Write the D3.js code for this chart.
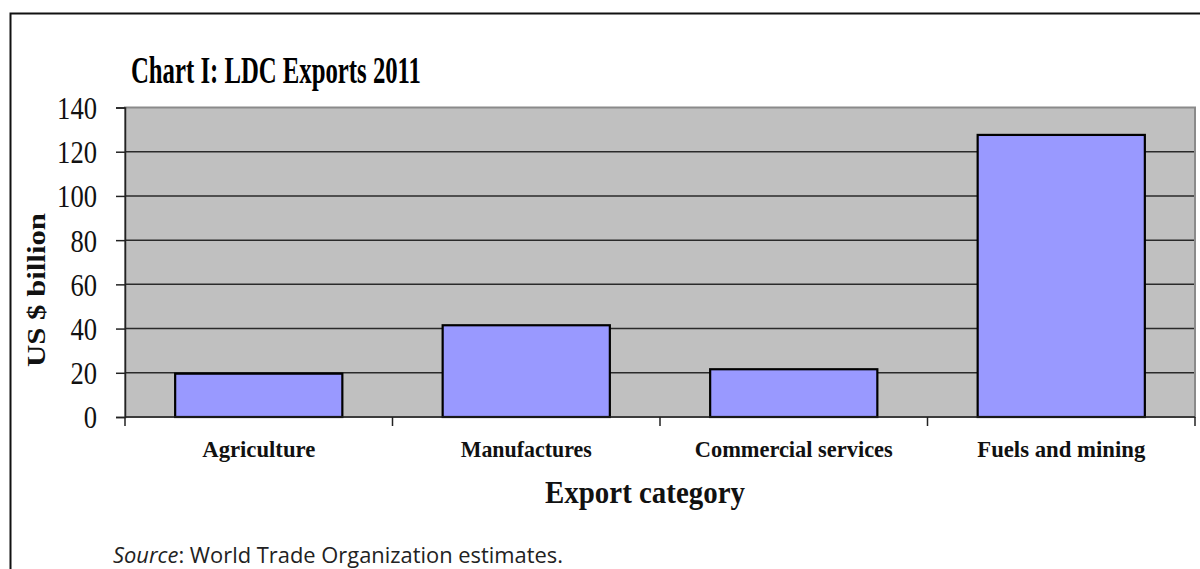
<!DOCTYPE html>
<html>
<head>
<meta charset="utf-8">
<script src="https://cdn.jsdelivr.net/npm/d3@7"></script>
<style>
  html, body { margin: 0; padding: 0; background: #fff; }
  svg { display: block; }
</style>
</head>
<body>
<script>
const categories = ["Agriculture", "Manufactures", "Commercial services", "Fuels and mining"];
const values = [19.6, 41.5, 21.6, 127.6];
const yTicks = [0, 20, 40, 60, 80, 100, 120, 140];
const title = "Chart I: LDC Exports 2011";
const yTitle = "US $ billion";
const xTitle = "Export category";
const sourceLabel = "Source";
const sourceText = ":  World Trade Organization estimates.";
// approximate rendered widths of x labels in the picture
const xLabelWidths = [113, 131, 198, 168];

const W = 1200, H = 569;
const plot = {left: 125, right: 1195, top: 107.5, bottom: 417};
const serif = "'Liberation Serif', 'Times New Roman', serif";

const svg = d3.select("body").append("svg").attr("width", W).attr("height", H);

// frame
svg.append("path")
  .attr("d", `M10.5,${H} L10.5,13.5 L${W},13.5`)
  .attr("fill", "none").attr("stroke", "#111").attr("stroke-width", 2);

const y = d3.scaleLinear().domain([0, 140]).range([plot.bottom, plot.top]);
const x = d3.scaleBand().domain(categories).range([plot.left, plot.right])
  .paddingInner(0.375).paddingOuter(0.1875);

// plot area
svg.append("rect")
  .attr("x", plot.left).attr("y", plot.top)
  .attr("width", plot.right - plot.left).attr("height", plot.bottom - plot.top)
  .attr("fill", "#C0C0C0").attr("stroke", "#8a8a8a").attr("stroke-width", 2);

// gridlines
svg.append("g").selectAll("line").data(yTicks.filter(d => d > 0 && d < 140)).join("line")
  .attr("x1", plot.left).attr("x2", plot.right - 1)
  .attr("y1", d => y(d)).attr("y2", d => y(d))
  .attr("stroke", "#2a2a2a").attr("stroke-width", 1.5);

// bars
svg.append("g").selectAll("rect").data(values).join("rect")
  .attr("x", (d, i) => x(categories[i]))
  .attr("y", d => y(d))
  .attr("width", x.bandwidth())
  .attr("height", d => y(0) - y(d))
  .attr("fill", "#9999FF")
  .attr("stroke", "#000").attr("stroke-width", 2.2);

// y axis
const yAxis = d3.axisLeft(y).tickValues(yTicks).tickSize(9).tickPadding(19).tickFormat(d3.format("d"));
const gy = svg.append("g").attr("transform", `translate(${plot.left},0)`).call(yAxis);
gy.select(".domain").attr("stroke", "#222").attr("stroke-width", 1.5);
gy.selectAll(".tick line").attr("stroke", "#222").attr("stroke-width", 1.5);
gy.selectAll(".tick text")
  .attr("font-family", serif).attr("font-size", 32).attr("fill", "#111")
  .attr("dy", "0.34em")
  .attr("textLength", d => String(d).length * 13.3)
  .attr("lengthAdjust", "spacingAndGlyphs");

// x axis (ticks at category boundaries)
svg.append("line")
  .attr("x1", plot.left).attr("x2", plot.right)
  .attr("y1", y(0)).attr("y2", y(0))
  .attr("stroke", "#222").attr("stroke-width", 1.5);
const bounds = categories.map(c => x(c) - x.step() * x.paddingInner() / 2);
bounds.push(bounds[bounds.length - 1] + x.step());
svg.append("g").selectAll("line").data(bounds).join("line")
  .attr("x1", d => d).attr("x2", d => d)
  .attr("y1", y(0)).attr("y2", y(0) + 9)
  .attr("stroke", "#222").attr("stroke-width", 1.5);

svg.append("g").selectAll("text").data(categories).join("text")
  .attr("x", d => x(d) + x.bandwidth() / 2)
  .attr("y", 457)
  .attr("text-anchor", "middle")
  .attr("font-family", serif).attr("font-weight", "bold").attr("font-size", 24)
  .attr("fill", "#111")
  .attr("textLength", (d, i) => xLabelWidths[i])
  .attr("lengthAdjust", "spacingAndGlyphs")
  .text(d => d);

// titles
svg.append("text")
  .attr("x", 131).attr("y", 83)
  .attr("font-family", serif).attr("font-weight", "bold").attr("font-size", 37)
  .attr("fill", "#000")
  .attr("textLength", 290).attr("lengthAdjust", "spacingAndGlyphs")
  .text(title);

svg.append("text")
  .attr("transform", `translate(45,290) rotate(-90)`)
  .attr("text-anchor", "middle")
  .attr("font-family", serif).attr("font-weight", "bold").attr("font-size", 25)
  .attr("fill", "#111")
  .attr("textLength", 154).attr("lengthAdjust", "spacingAndGlyphs")
  .text(yTitle);

svg.append("text")
  .attr("x", 645).attr("y", 503)
  .attr("text-anchor", "middle")
  .attr("font-family", serif).attr("font-weight", "bold").attr("font-size", 31)
  .attr("fill", "#111")
  .attr("textLength", 200).attr("lengthAdjust", "spacingAndGlyphs")
  .text(xTitle);

const src = svg.append("text")
  .attr("x", 113).attr("y", 563)
  .attr("font-family", "'Open Sans', 'Noto Sans', sans-serif").attr("font-size", 21)
  .attr("fill", "#222")
  .attr("textLength", 450).attr("lengthAdjust", "spacingAndGlyphs");
src.append("tspan").attr("font-style", "italic").text(sourceLabel);
src.append("tspan").text(sourceText);
</script>
</body>
</html>
